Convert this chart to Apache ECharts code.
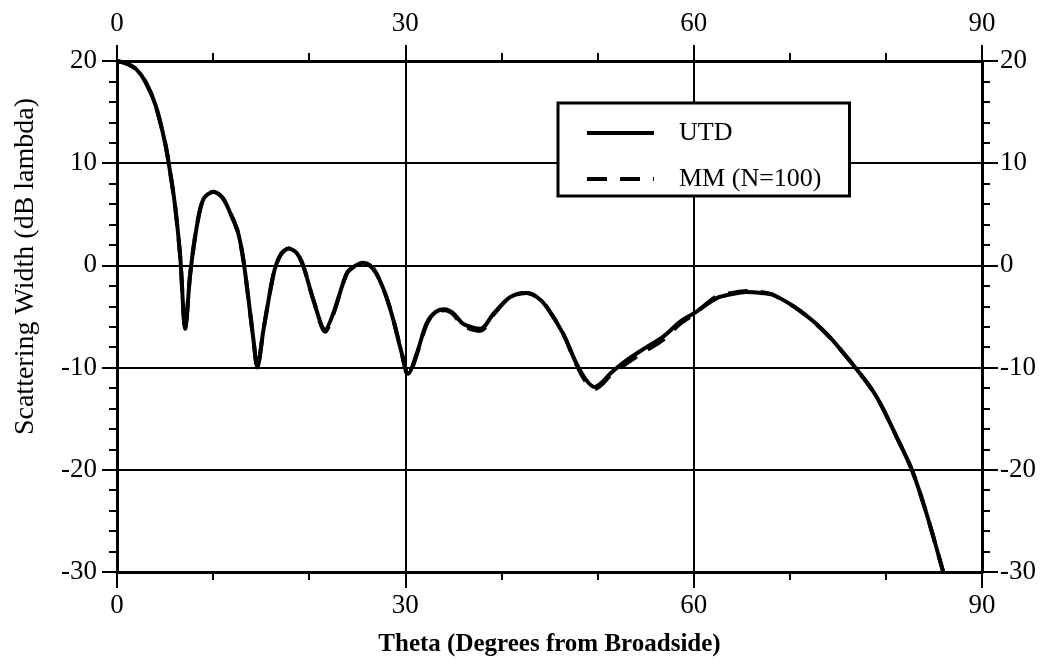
<!DOCTYPE html>
<html>
<head>
<meta charset="utf-8">
<script src="https://cdn.jsdelivr.net/npm/echarts@6/dist/echarts.min.js"></script>
<style>html,body{margin:0;padding:0;background:#fff}#c{width:1044px;height:671px}</style>
</head>
<body>
<div id="c"></div>
<script>
const xTicks = [0, 30, 60, 90];
const yTicks = [-30, -20, -10, 0, 10, 20];
const seriesNames = ['UTD', 'MM (N=100)'];
const utdTheta = [0,1,2,3,4,5,5.5,6.06,6.58,7.1,7.62,8.3,9.0,10.05,11.0,11.8,12.6,13.2,14.2,14.6,15.24,16.3,17.0,17.85,18.7,19.4,20.44,21.66,22.5,23.9,24.7,25.6,26.3,27.0,28.0,28.8,29.6,30.3,31.2,32.2,33.1,34.1,35.0,36.0,37.8,39.2,40.9,42.6,43.7,44.7,46.4,47.8,48.8,49.7,50.5,51.3,53.0,55.1,56.8,58.6,60.0,62.4,64.0,65.5,67.0,68.3,71.0,73.8,76.9,79.0,81.1,82.7,84.2,85.95];
const utdVal = [20,19.75,19.2,17.9,15.7,12.0,9.3,5.7,0.84,-6.2,-0.8,3.8,6.5,7.2,6.6,5.1,3.2,0.2,-7.3,-10.0,-6.3,-0.8,1.0,1.66,1.2,-0.1,-3.4,-6.3,-4.7,-0.8,-0.1,0.25,0.0,-0.8,-3.0,-5.5,-8.5,-10.6,-8.6,-5.7,-4.6,-4.3,-4.7,-5.7,-6.2,-4.7,-3.1,-2.7,-3.1,-4.05,-6.65,-9.6,-11.2,-11.9,-11.4,-10.6,-9.3,-8.0,-7.0,-5.5,-4.7,-3.2,-2.8,-2.6,-2.7,-2.9,-4.4,-6.65,-10.1,-12.8,-16.75,-20.0,-24.2,-29.95];
const mmTheta = [0,1,2,3,4,5,5.5,6.06,6.58,7.1,7.62,8.3,9.0,10.05,11.0,11.8,12.6,13.2,14.2,14.6,15.24,16.3,17.0,17.85,18.7,19.4,20.44,21.66,22.5,23.9,24.7,25.6,26.3,27.0,28.0,28.8,29.6,30.3,31.2,32.2,33.1,34.1,35.0,36.0,37.8,39.2,40.9,42.6,43.7,44.7,46.4,47.8,48.8,49.7,50.5,51.3,53.0,55.1,56.8,58.6,60.0,62.4,64.0,65.5,67.0,68.3,71.0,73.8,76.9,79.0,81.1,82.7,84.2,85.95];
const mmVal = [20,19.75,19.2,17.9,15.7,12.0,9.3,5.7,0.84,-6.2,-0.8,3.8,6.5,7.2,6.6,5.1,3.2,0.2,-7.3,-10.0,-6.3,-0.8,1.0,1.66,1.2,-0.1,-3.4,-6.5,-4.8,-0.8,-0.1,0.25,0.0,-0.8,-3.0,-5.5,-8.5,-10.8,-8.7,-5.8,-4.6,-4.4,-4.8,-5.9,-6.4,-4.8,-3.1,-2.7,-3.1,-4.05,-6.65,-9.7,-11.4,-12.1,-11.6,-10.8,-9.6,-8.3,-7.3,-5.7,-4.8,-3.0,-2.7,-2.5,-2.6,-2.9,-4.4,-6.7,-10.1,-12.8,-16.75,-20.0,-24.2,-29.95];

const FONT = 'Liberation Serif';
const zip = (a, b) => a.map((v, i) => [v, b[i]]);

const chart = echarts.init(document.getElementById('c'), null, {renderer: 'canvas'});
const xCommon = {
  type: 'value', min: 0, max: 90, interval: 30,
  axisLine: {show: true, onZero: false, lineStyle: {color: '#000', width: 3}},
  axisLabel: {color: '#000', fontFamily: FONT, fontSize: 27},
  minorTick: {show: true, splitNumber: 3, length: 8, lineStyle: {color: '#000', width: 2}}
};
const yCommon = {
  type: 'value', min: -30, max: 20, interval: 10,
  axisLine: {show: true, onZero: false, lineStyle: {color: '#000', width: 3}},
  axisLabel: {color: '#000', fontFamily: FONT, fontSize: 27},
  minorTick: {show: true, splitNumber: 5, length: 8, lineStyle: {color: '#000', width: 2}}
};
chart.setOption({
  backgroundColor: '#fff',
  animation: false,
  grid: {left: 117, right: 62, top: 61, bottom: 99, containLabel: false},
  legend: {
    orient: 'vertical', left: 558, top: 103,
    data: seriesNames,
    backgroundColor: '#fff',
    borderColor: '#000', borderWidth: 3, borderRadius: 0,
    padding: [17, 28, 4, 27],
    itemWidth: 67, itemHeight: 22, itemGap: 20,
    itemStyle: {opacity: 0},
    lineStyle: {width: 4},
    textStyle: {color: '#000', fontFamily: FONT, fontSize: 26, padding: [0, 0, 0, 20]}
  },
  xAxis: [
    Object.assign({}, xCommon, {
      position: 'bottom',
      axisTick: {show: true, length: 16, lineStyle: {color: '#000', width: 2}},
      axisLabel: Object.assign({}, xCommon.axisLabel, {margin: 20}),
      splitLine: {show: true, lineStyle: {color: '#000', width: 2}},
      name: 'Theta (Degrees from Broadside)', nameLocation: 'middle', nameGap: 60,
      nameTextStyle: {color: '#000', fontFamily: FONT, fontSize: 25, fontWeight: 'bold'}
    }),
    Object.assign({}, xCommon, {
      position: 'top',
      axisTick: {show: true, length: 16, lineStyle: {color: '#000', width: 2}},
      axisLabel: Object.assign({}, xCommon.axisLabel, {margin: 24}),
      splitLine: {show: false}
    })
  ],
  yAxis: [
    Object.assign({}, yCommon, {
      position: 'left',
      axisTick: {show: true, length: 15, lineStyle: {color: '#000', width: 2}},
      axisLabel: Object.assign({}, yCommon.axisLabel, {margin: 20}),
      splitLine: {show: true, lineStyle: {color: '#000', width: 2}},
      name: 'Scattering Width (dB lambda)', nameLocation: 'middle', nameGap: 77,
      nameTextStyle: {color: '#000', fontFamily: FONT, fontSize: 28, padding: [0, 0, 0, 100]}
    }),
    Object.assign({}, yCommon, {
      position: 'right',
      axisTick: {show: true, length: 16, lineStyle: {color: '#000', width: 2}},
      axisLabel: Object.assign({}, yCommon.axisLabel, {margin: 18}),
      splitLine: {show: false}
    })
  ],
  series: [
    {
      name: seriesNames[0], type: 'line', xAxisIndex: 0, yAxisIndex: 0,
      data: zip(utdTheta, utdVal), showSymbol: false, symbol: 'none', smooth: 0.3,
      lineStyle: {color: '#000', width: 4}, itemStyle: {color: '#000'}, z: 3
    },
    {
      name: seriesNames[1], type: 'line', xAxisIndex: 0, yAxisIndex: 0,
      data: zip(mmTheta, mmVal), showSymbol: false, symbol: 'none', smooth: 0.3,
      lineStyle: {color: '#000', width: 4, type: [20, 13]}, itemStyle: {color: '#000'}, z: 3
    }
  ]
});
</script>
</body>
</html>
